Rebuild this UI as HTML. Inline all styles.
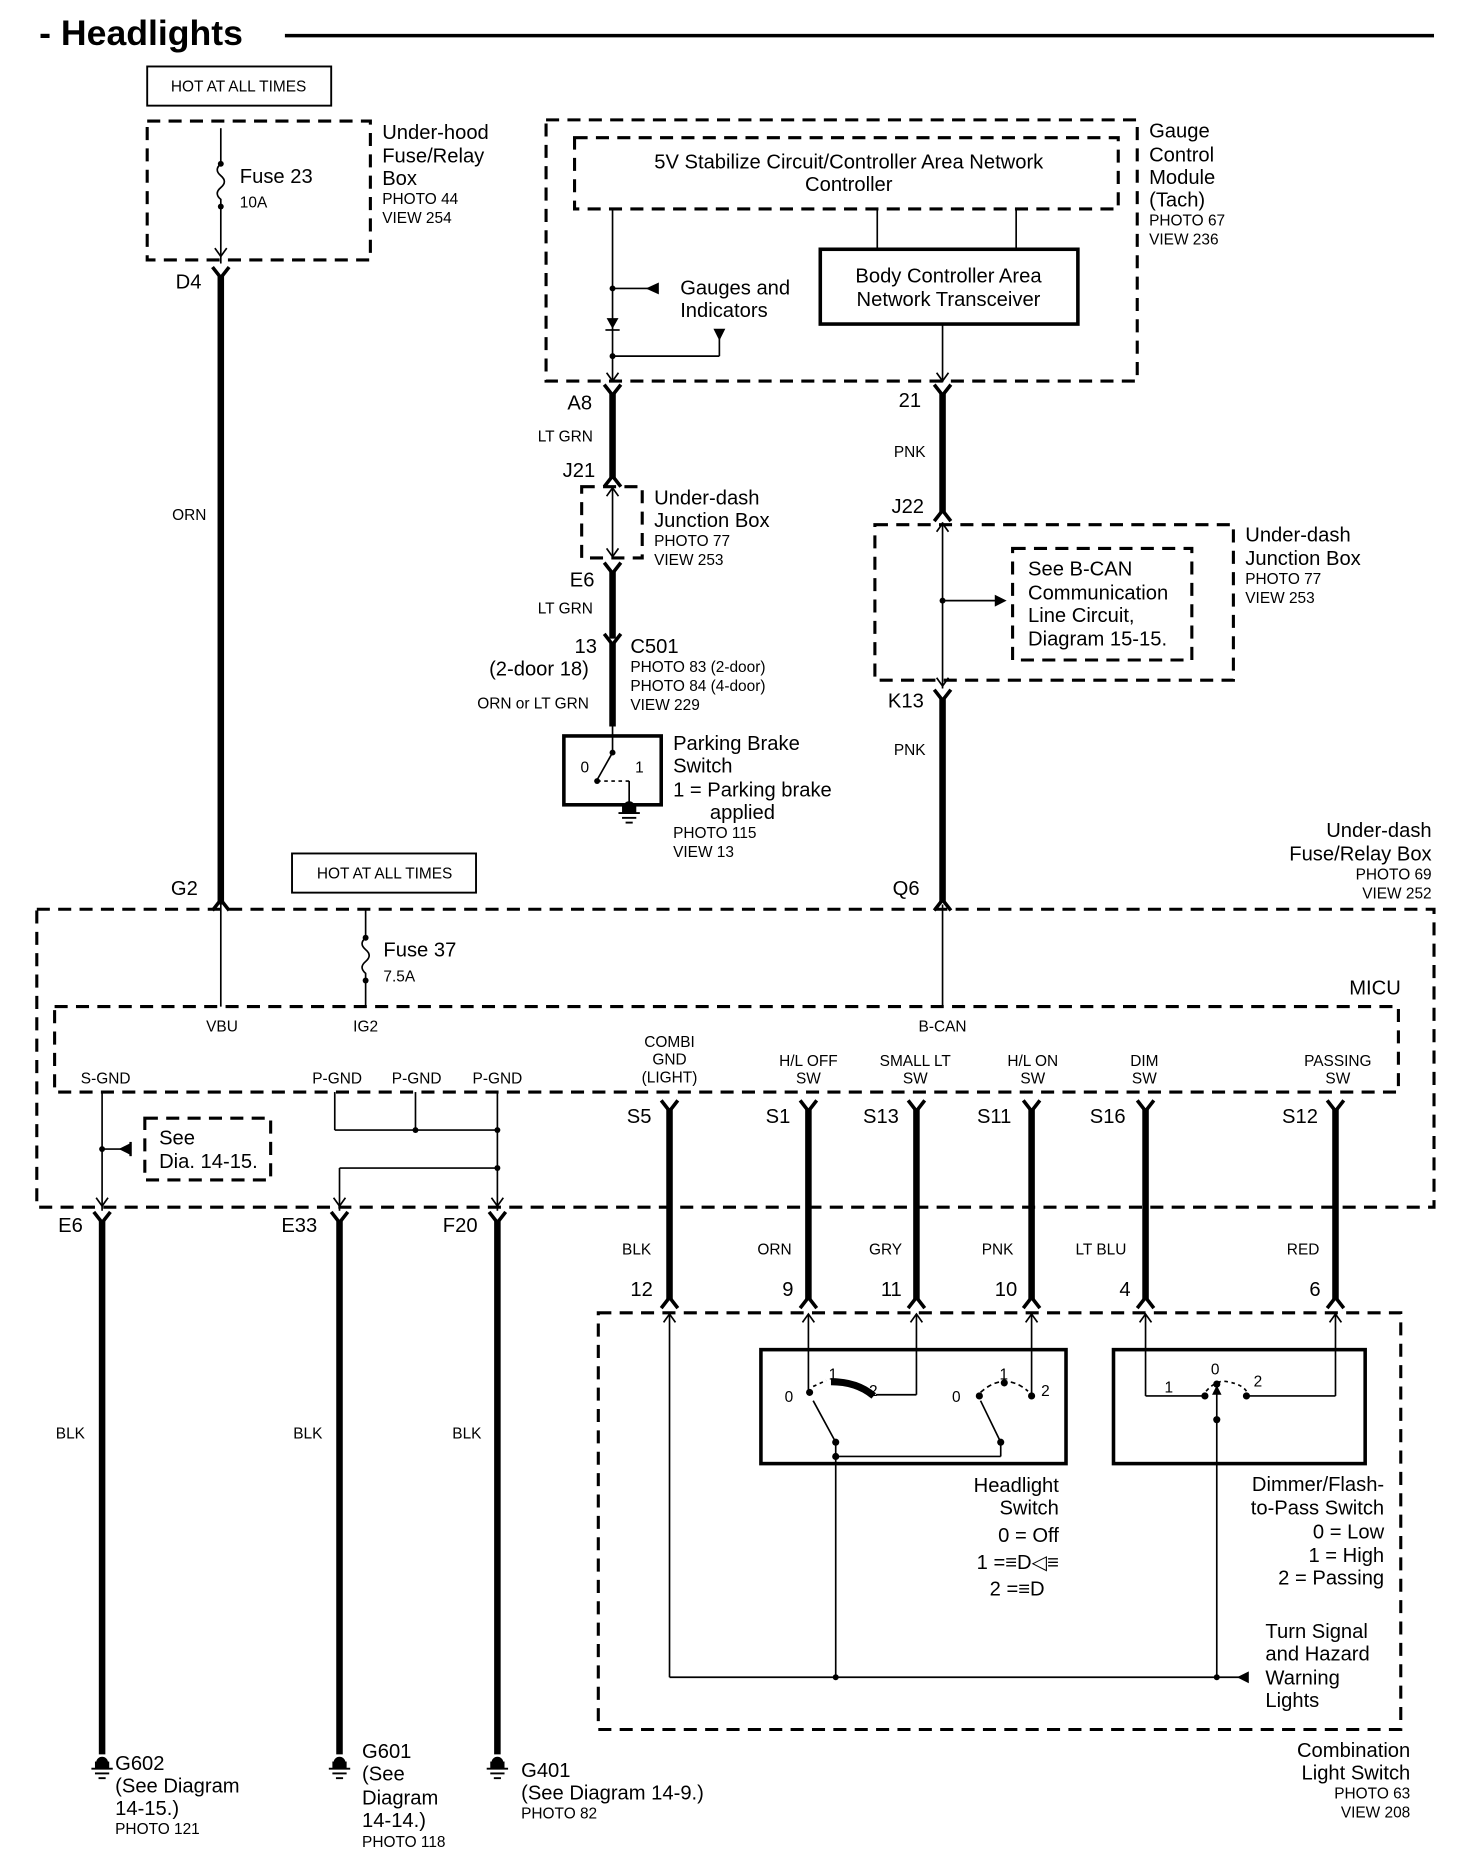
<!DOCTYPE html>
<html><head><meta charset="utf-8"><style>
html,body{margin:0;padding:0;background:#fff}
svg{display:block}
text{font-family:"Liberation Sans",sans-serif;fill:#000}
.l{font-size:17px}.s{font-size:13px}
.d{fill:none;stroke:#000;stroke-width:2.6;stroke-dasharray:11,7}
.t{stroke:#000;stroke-width:1.4;fill:none}
.w{stroke:#000;stroke-width:5.5;fill:none}
.b{fill:none;stroke:#000;stroke-width:3}
</style></head><body>
<svg width="1472" height="1866" viewBox="0 0 1240 1572" preserveAspectRatio="none" xmlns="http://www.w3.org/2000/svg">
<defs>
<g id="v"><path d="M-7,-7 L0,2 L7,-7" fill="none" stroke="#000" stroke-width="3"/></g>
<g id="u"><path d="M-7,7 L0,-2 L7,7" fill="none" stroke="#000" stroke-width="3"/></g>
<g id="av"><path d="M-5,-7 L0,0 L5,-7" fill="none" stroke="#000" stroke-width="1.4"/></g>
<g id="au"><path d="M-5,7 L0,0 L5,7" fill="none" stroke="#000" stroke-width="1.4"/></g>
<g id="gnd"><circle cx="0" cy="0" r="5"/><rect x="-6" y="-1" width="12" height="6"/><line x1="-9" y1="5" x2="9" y2="5" stroke="#000" stroke-width="1.6"/><line x1="-6" y1="9" x2="6" y2="9" stroke="#000" stroke-width="1.6"/><line x1="-3" y1="13" x2="3" y2="13" stroke="#000" stroke-width="1.6"/></g>
</defs>
<!-- title -->
<text x="33" y="38" style="font-size:30px;font-weight:bold">- Headlights</text>
<line x1="240" y1="30" x2="1208" y2="30" stroke="#000" stroke-width="3"/>

<!-- hot at all times 1 -->
<rect x="124" y="56" width="155" height="33" fill="none" stroke="#000" stroke-width="1.6"/>
<text x="201" y="77" class="s" text-anchor="middle">HOT AT ALL TIMES</text>
<rect x="124" y="102" width="188" height="117" class="d"/>
<line x1="186" y1="108" x2="186" y2="138" class="t"/>
<path d="M186,138 q-6,5 0,10 q6,5 0,10 q-6,5 0,10 l0,6" class="t"/>
<line x1="186" y1="174" x2="186" y2="222" class="t"/>
<circle cx="186" cy="138" r="2.5"/><circle cx="186" cy="174" r="2.5"/>
<use href="#av" x="186" y="216"/>
<text x="202" y="154" class="l">Fuse 23</text><text x="202" y="175" class="s">10A</text>
<text x="322" y="117" class="l">Under-hood</text><text x="322" y="137" class="l">Fuse/Relay</text><text x="322" y="156" class="l">Box</text>
<text x="322" y="172" class="s">PHOTO 44</text><text x="322" y="188" class="s">VIEW 254</text>
<text x="148" y="243" class="l">D4</text>
<use href="#v" x="186" y="232"/>
<line x1="186" y1="232" x2="186" y2="762" class="w"/>
<text x="145" y="438" class="s">ORN</text>

<!-- gauge module -->
<rect x="460" y="101" width="498" height="220" class="d"/>
<rect x="484" y="116" width="458" height="60" class="d"/>
<text x="715" y="142" class="l" text-anchor="middle">5V Stabilize Circuit/Controller Area Network</text>
<text x="715" y="161" class="l" text-anchor="middle">Controller</text>
<rect x="691" y="210" width="217" height="63" class="b"/>
<text x="799" y="238" class="l" text-anchor="middle">Body Controller Area</text>
<text x="799" y="258" class="l" text-anchor="middle">Network Transceiver</text>
<line x1="739" y1="176" x2="739" y2="210" class="t"/><line x1="856" y1="176" x2="856" y2="210" class="t"/>
<line x1="516" y1="176" x2="516" y2="322" class="t"/>
<line x1="516" y1="243" x2="550" y2="243" class="t"/><path d="M545,238 L556,243 L545,248Z" transform="rotate(180 550 243)"/>
<circle cx="516" cy="243" r="2.5"/>
<path d="M511,268 L521,268 L516,277Z"/><line x1="510" y1="278" x2="522" y2="278" class="t"/>
<line x1="516" y1="300" x2="606" y2="300" class="t"/><circle cx="516" cy="300" r="2.5"/>
<line x1="606" y1="300" x2="606" y2="282" class="t"/><path d="M601,277 L611,277 L606,287Z"/>
<text x="573" y="248" class="l">Gauges and</text><text x="573" y="267" class="l">Indicators</text>
<line x1="794" y1="273" x2="794" y2="322" class="t"/>
<use href="#av" x="516" y="321"/><use href="#av" x="794" y="321"/>
<text x="968" y="116" class="l">Gauge</text><text x="968" y="136" class="l">Control</text><text x="968" y="155" class="l">Module</text><text x="968" y="174" class="l">(Tach)</text>
<text x="968" y="190" class="s">PHOTO 67</text><text x="968" y="206" class="s">VIEW 236</text>

<!-- LT GRN path -->
<text x="478" y="345" class="l">A8</text>
<use href="#v" x="516" y="331"/>
<line x1="516" y1="331" x2="516" y2="403" class="w"/><use href="#u" x="516" y="403"/>
<text x="453" y="372" class="s">LT GRN</text>
<text x="474" y="402" class="l">J21</text>
<rect x="490" y="410" width="51" height="60" class="d"/>
<line x1="516" y1="410" x2="516" y2="470" class="t"/><use href="#au" x="516" y="411"/><use href="#av" x="516" y="469"/>
<text x="551" y="425" class="l">Under-dash</text><text x="551" y="444" class="l">Junction Box</text>
<text x="551" y="460" class="s">PHOTO 77</text><text x="551" y="476" class="s">VIEW 253</text>
<text x="480" y="494" class="l">E6</text>
<use href="#v" x="516" y="481"/>
<line x1="516" y1="481" x2="516" y2="538" class="w"/>
<text x="453" y="517" class="s">LT GRN</text>
<use href="#v" x="516" y="541"/>
<line x1="516" y1="541" x2="516" y2="612" class="w"/>
<text x="484" y="550" class="l">13</text><text x="531" y="550" class="l">C501</text>
<text x="412" y="569" class="l">(2-door 18)</text>
<text x="531" y="566" class="s">PHOTO 83 (2-door)</text><text x="531" y="582" class="s">PHOTO 84 (4-door)</text><text x="531" y="598" class="s">VIEW 229</text>
<text x="402" y="597" class="s">ORN or LT GRN</text>
<rect x="475" y="620" width="82" height="58" class="b"/>
<line x1="516" y1="612" x2="516" y2="634" class="t"/><circle cx="516" cy="634" r="2.5"/>
<line x1="516" y1="634" x2="503" y2="657" class="t"/><circle cx="503" cy="658" r="2.5"/>
<line x1="503" y1="658" x2="530" y2="658" class="t" stroke-dasharray="3,3"/>
<line x1="530" y1="658" x2="530" y2="678" class="t"/>
<text x="489" y="651" class="s">0</text><text x="535" y="651" class="s">1</text>
<use href="#gnd" x="530" y="680"/>
<text x="567" y="632" class="l">Parking Brake</text><text x="567" y="651" class="l">Switch</text>
<text x="567" y="671" class="l">1 = Parking brake</text><text x="598" y="690" class="l">applied</text>
<text x="567" y="706" class="s">PHOTO 115</text><text x="567" y="722" class="s">VIEW 13</text>

<!-- PNK path -->
<text x="757" y="343" class="l">21</text>
<use href="#v" x="794" y="331"/>
<line x1="794" y1="331" x2="794" y2="432" class="w"/><use href="#u" x="794" y="432"/>
<text x="753" y="385" class="s">PNK</text>
<text x="751" y="432" class="l">J22</text>
<rect x="737" y="442" width="302" height="131" class="d"/>
<rect x="853" y="462" width="151" height="94" class="d"/>
<line x1="794" y1="440" x2="794" y2="580" class="t"/><use href="#au" x="794" y="441"/><use href="#av" x="794" y="578"/>
<line x1="794" y1="506" x2="840" y2="506" class="t"/><circle cx="794" cy="506" r="2.5"/><path d="M838,501 L848,506 L838,511Z"/>
<text x="866" y="485" class="l">See B-CAN</text><text x="866" y="505" class="l">Communication</text><text x="866" y="524" class="l">Line Circuit,</text><text x="866" y="544" class="l">Diagram 15-15.</text>
<text x="1049" y="456" class="l">Under-dash</text><text x="1049" y="476" class="l">Junction Box</text>
<text x="1049" y="492" class="s">PHOTO 77</text><text x="1049" y="508" class="s">VIEW 253</text>
<text x="748" y="596" class="l">K13</text>
<use href="#v" x="794" y="588"/>
<line x1="794" y1="588" x2="794" y2="760" class="w"/>
<text x="753" y="636" class="s">PNK</text>

<text x="1206" y="705" class="l" text-anchor="end">Under-dash</text>
<text x="1206" y="725" class="l" text-anchor="end">Fuse/Relay Box</text>
<text x="1206" y="741" class="s" text-anchor="end">PHOTO 69</text>
<text x="1206" y="757" class="s" text-anchor="end">VIEW 252</text>
<text x="144" y="754" class="l">G2</text><text x="752" y="754" class="l">Q6</text>
<use href="#u" x="186" y="760"/><use href="#u" x="794" y="760"/>
<rect x="246" y="719" width="155" height="33" fill="none" stroke="#000" stroke-width="1.6"/>
<text x="324" y="740" class="s" text-anchor="middle">HOT AT ALL TIMES</text>

<!-- big box -->
<rect x="31" y="766" width="1177" height="251" class="d"/>
<rect x="46" y="848" width="1132" height="72" class="d"/>
<text x="1180" y="838" class="l" text-anchor="end">MICU</text>
<line x1="186" y1="762" x2="186" y2="848" class="t"/>
<line x1="794" y1="762" x2="794" y2="848" class="t"/>
<line x1="308" y1="766" x2="308" y2="790" class="t"/>
<path d="M308,790 q-6,5 0,10 q6,5 0,10 q-6,5 0,10 l0,6" class="t"/>
<line x1="308" y1="826" x2="308" y2="848" class="t"/>
<circle cx="308" cy="790" r="2.5"/><circle cx="308" cy="826" r="2.5"/>
<text x="323" y="806" class="l">Fuse 37</text><text x="323" y="827" class="s">7.5A</text>
<text x="187" y="869" class="s" text-anchor="middle">VBU</text>
<text x="308" y="869" class="s" text-anchor="middle">IG2</text>
<text x="794" y="869" class="s" text-anchor="middle">B-CAN</text>
<g class="s" text-anchor="middle">
<text x="89" y="913">S-GND</text><text x="284" y="913">P-GND</text><text x="351" y="913">P-GND</text><text x="419" y="913">P-GND</text>
<text x="564" y="882">COMBI</text><text x="564" y="897">GND</text><text x="564" y="912">(LIGHT)</text>
<text x="681" y="898">H/L OFF</text><text x="681" y="913">SW</text>
<text x="771" y="898">SMALL LT</text><text x="771" y="913">SW</text>
<text x="870" y="898">H/L ON</text><text x="870" y="913">SW</text>
<text x="964" y="898">DIM</text><text x="964" y="913">SW</text>
<text x="1127" y="898">PASSING</text><text x="1127" y="913">SW</text>
</g>
<line x1="86" y1="920" x2="86" y2="1020" class="t"/>
<line x1="86" y1="968" x2="108" y2="968" class="t"/><circle cx="86" cy="968" r="2.5"/><path d="M100,963 L110,968 L100,973Z" transform="rotate(180 105 968)"/>
<line x1="110" y1="962" x2="110" y2="974" stroke="#000" stroke-width="2"/>
<rect x="122" y="942" width="106" height="52" class="d"/>
<text x="134" y="964" class="l">See</text><text x="134" y="984" class="l">Dia. 14-15.</text>
<line x1="282" y1="920" x2="282" y2="952" class="t"/>
<line x1="350" y1="920" x2="350" y2="952" class="t"/>
<line x1="419" y1="920" x2="419" y2="1020" class="t"/>
<line x1="282" y1="952" x2="419" y2="952" class="t"/>
<line x1="286" y1="984" x2="419" y2="984" class="t"/>
<line x1="286" y1="984" x2="286" y2="1020" class="t"/>
<circle cx="350" cy="952" r="2.5"/><circle cx="419" cy="952" r="2.5"/><circle cx="419" cy="984" r="2.5"/>
<use href="#av" x="86" y="1016"/><use href="#av" x="286" y="1016"/><use href="#av" x="419" y="1016"/>

<!-- S connectors -->
<g class="l">
<text x="528" y="946">S5</text><text x="645" y="946">S1</text><text x="727" y="946">S13</text><text x="823" y="946">S11</text><text x="918" y="946">S16</text><text x="1080" y="946">S12</text>
</g>
<g>
<use href="#v" x="564" y="934"/><use href="#v" x="681" y="934"/><use href="#v" x="772" y="934"/><use href="#v" x="869" y="934"/><use href="#v" x="965" y="934"/><use href="#v" x="1125" y="934"/>
<line x1="564" y1="934" x2="564" y2="1095" class="w"/><line x1="681" y1="934" x2="681" y2="1095" class="w"/><line x1="772" y1="934" x2="772" y2="1095" class="w"/><line x1="869" y1="934" x2="869" y2="1095" class="w"/><line x1="965" y1="934" x2="965" y2="1095" class="w"/><line x1="1125" y1="934" x2="1125" y2="1095" class="w"/>
<use href="#u" x="564" y="1095"/><use href="#u" x="681" y="1095"/><use href="#u" x="772" y="1095"/><use href="#u" x="869" y="1095"/><use href="#u" x="965" y="1095"/><use href="#u" x="1125" y="1095"/>
</g>
<g class="s">
<text x="524" y="1057">BLK</text><text x="638" y="1057">ORN</text><text x="732" y="1057">GRY</text><text x="827" y="1057">PNK</text><text x="906" y="1057">LT BLU</text><text x="1084" y="1057">RED</text>
</g>
<g class="l">
<text x="531" y="1092">12</text><text x="659" y="1092">9</text><text x="742" y="1092">11</text><text x="838" y="1092">10</text><text x="943" y="1092">4</text><text x="1103" y="1092">6</text>
</g>

<!-- ground wires -->
<text x="49" y="1038" class="l">E6</text><text x="237" y="1038" class="l">E33</text><text x="373" y="1038" class="l">F20</text>
<use href="#v" x="86" y="1028"/><use href="#v" x="286" y="1028"/><use href="#v" x="419" y="1028"/>
<line x1="86" y1="1028" x2="86" y2="1478" class="w"/><line x1="286" y1="1028" x2="286" y2="1478" class="w"/><line x1="419" y1="1028" x2="419" y2="1478" class="w"/>
<text x="47" y="1212" class="s">BLK</text><text x="247" y="1212" class="s">BLK</text><text x="381" y="1212" class="s">BLK</text>
<use href="#gnd" x="86" y="1485"/><use href="#gnd" x="286" y="1485"/><use href="#gnd" x="419" y="1485"/>
<text x="97" y="1491" class="l">G602</text><text x="97" y="1510" class="l">(See Diagram</text><text x="97" y="1529" class="l">14-15.)</text><text x="97" y="1545" class="s">PHOTO 121</text>
<text x="305" y="1481" class="l">G601</text><text x="305" y="1500" class="l">(See</text><text x="305" y="1520" class="l">Diagram</text><text x="305" y="1539" class="l">14-14.)</text><text x="305" y="1556" class="s">PHOTO 118</text>
<text x="439" y="1497" class="l">G401</text><text x="439" y="1516" class="l">(See Diagram 14-9.)</text><text x="439" y="1532" class="s">PHOTO 82</text>

<!-- combination switch -->
<rect x="504" y="1106" width="676" height="351" class="d"/>
<use href="#au" x="564" y="1107"/><use href="#au" x="681" y="1107"/><use href="#au" x="772" y="1107"/><use href="#au" x="869" y="1107"/><use href="#au" x="965" y="1107"/><use href="#au" x="1125" y="1107"/>
<rect x="641" y="1137" width="257" height="96" class="b"/>
<rect x="938" y="1137" width="212" height="96" class="b"/>
<line x1="564" y1="1107" x2="564" y2="1413" class="t"/>
<line x1="564" y1="1413" x2="1046" y2="1413" class="t"/>
<path d="M1042,1408 L1052,1413 L1042,1418Z" transform="rotate(180 1047 1413)"/>
<circle cx="704" cy="1413" r="2.5"/><circle cx="1025" cy="1413" r="2.5"/>
<!-- headlight switch -->
<line x1="681" y1="1107" x2="681" y2="1172" class="t"/>
<line x1="772" y1="1107" x2="772" y2="1175" class="t"/><line x1="738" y1="1175" x2="772" y2="1175" class="t"/>
<circle cx="682" cy="1173" r="3"/>
<path d="M685,1168 L696,1163" class="t" stroke-dasharray="3,3"/>
<path d="M700,1164 Q722,1164 736,1176" stroke="#000" stroke-width="6" fill="none"/>
<line x1="704" y1="1215" x2="685" y2="1180" class="t" stroke-width="2"/>
<circle cx="704" cy="1215" r="3"/>
<line x1="704" y1="1215" x2="704" y2="1413" class="t"/>
<line x1="704" y1="1227" x2="843" y2="1227" class="t"/><circle cx="704" cy="1227" r="3"/>
<line x1="843" y1="1227" x2="843" y2="1215" class="t"/>
<circle cx="843" cy="1215" r="3"/>
<line x1="843" y1="1215" x2="826" y2="1180" class="t" stroke-width="2"/>
<circle cx="825" cy="1176" r="3"/>
<path d="M826,1173 Q846,1155 866,1172" class="t" stroke-dasharray="4,3"/>
<circle cx="846" cy="1165" r="3"/>
<line x1="869" y1="1107" x2="869" y2="1176" class="t"/><circle cx="869" cy="1176" r="3"/>
<g class="s">
<text x="661" y="1181">0</text><text x="698" y="1162">1</text><text x="732" y="1176">2</text>
<text x="802" y="1181">0</text><text x="842" y="1162">1</text><text x="877" y="1176">2</text>
<text x="981" y="1173">1</text><text x="1020" y="1158">0</text><text x="1056" y="1168">2</text>
</g>
<!-- dimmer -->
<line x1="965" y1="1107" x2="965" y2="1176" class="t"/><line x1="965" y1="1176" x2="1015" y2="1176" class="t"/>
<line x1="1125" y1="1107" x2="1125" y2="1176" class="t"/><line x1="1050" y1="1176" x2="1125" y2="1176" class="t"/>
<circle cx="1015" cy="1176" r="3"/><circle cx="1050" cy="1176" r="3"/><circle cx="1025" cy="1166" r="3"/>
<path d="M1016,1172 Q1025,1162 1034,1164 Q1046,1166 1050,1172" class="t" stroke-dasharray="3,3"/>
<line x1="1025" y1="1166" x2="1025" y2="1413" class="t"/><circle cx="1025" cy="1196" r="3"/>
<path d="M1021,1175 L1025,1167 L1029,1175Z"/>
<g class="l" text-anchor="end">
<text x="892" y="1257">Headlight</text><text x="892" y="1276">Switch</text><text x="892" y="1299">0 = Off</text>
<text x="892" y="1322">1 =≡D◁≡</text><text x="880" y="1344">2 =≡D</text>
<text x="1166" y="1256">Dimmer/Flash-</text><text x="1166" y="1276">to-Pass Switch</text><text x="1166" y="1296">0 = Low</text><text x="1166" y="1316">1 = High</text><text x="1166" y="1335">2 = Passing</text>
<text x="1188" y="1480">Combination</text><text x="1188" y="1499">Light Switch</text>
</g>
<text x="1188" y="1515" class="s" text-anchor="end">PHOTO 63</text><text x="1188" y="1531" class="s" text-anchor="end">VIEW 208</text>
<g class="l"><text x="1066" y="1380">Turn Signal</text><text x="1066" y="1399">and Hazard</text><text x="1066" y="1419">Warning</text><text x="1066" y="1438">Lights</text></g>
</svg>
</body></html>
